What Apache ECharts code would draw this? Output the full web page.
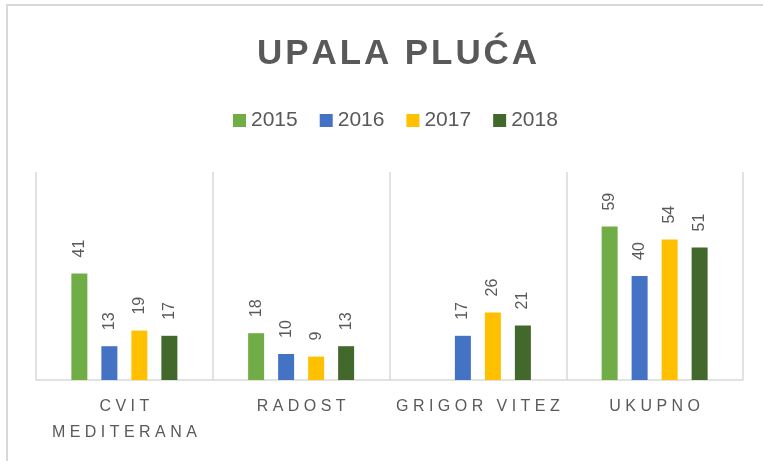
<!DOCTYPE html>
<html lang="hr">
<head>
    <meta charset="UTF-8">
    <title>Upala pluća</title>
    <style>
        body { margin: 0; background: #fff; }
    </style>
</head>
<body>
    <div id="app" style="width: 763px;height:461px;"></div>
    <script src="https://cdn.jsdelivr.net/npm/echarts@6/dist/echarts.min.js"></script>
    <script>
        const categories = ['CVIT MEDITERANA', 'RADOST', 'GRIGOR VITEZ', 'UKUPNO'];
        const years = ['2015', '2016', '2017', '2018'];
        const v2015 = [41, 18, null, 59];
        const v2016 = [13, 10, 17, 40];
        const v2017 = [19, 9, 26, 54];
        const v2018 = [17, 13, 21, 51];
        const colors = ['#70AD47', '#4472C4', '#FFC000', '#43682B'];

        // spread letters out a bit, like the office chart does
        function spaced(word, gap) {
            return word.split('').join(gap);
        }
        function catLabel(name) {
            const words = name.split(' ').map(w => spaced(w, ' '));
            return name.length > 12 ? words.join('\n') : words.join('   ');
        }

        const myChart = echarts.init(document.getElementById('app'));
        const gray = '#595959';

        const series = [v2015, v2016, v2017, v2018].map((vals, i) => ({
            name: years[i],
            type: 'bar',
            data: vals,
            barWidth: 16,
            barGap: '87.5%',
            itemStyle: { color: colors[i] },
            label: {
                show: true,
                position: 'top',
                rotate: 90,
                align: 'left',
                verticalAlign: 'middle',
                distance: 16,
                color: gray,
                fontSize: 16,
                fontFamily: 'Liberation Sans'
            }
        }));

        myChart.setOption({
            animation: false,
            color: colors,
            title: {
                text: spaced('UPALA PLUĆA', '\u200A'),
                left: 252,
                top: 32,
                textStyle: {
                    fontFamily: 'Liberation Sans',
                    fontWeight: 'bold',
                    fontSize: 35,
                    color: gray
                }
            },
            legend: {
                top: 105,
                left: 228,
                itemWidth: 13,
                itemHeight: 13,
                itemGap: 22,
                icon: 'rect',
                textStyle: { fontSize: 21, color: gray, fontFamily: 'Liberation Sans' }
            },
            grid: { left: 36, right: 20, top: 172, bottom: 81 },
            xAxis: {
                type: 'category',
                data: categories,
                axisLine: { lineStyle: { color: '#d9d9d9', width: 1.5 } },
                axisTick: { show: false },
                splitLine: { show: true, interval: 0, lineStyle: { color: '#d9d9d9', width: 1.5 } },
                axisLabel: {
                    interval: 0,
                    margin: 14,
                    fontSize: 16,
                    lineHeight: 26,
                    color: gray,
                    fontFamily: 'Liberation Sans',
                    formatter: catLabel
                }
            },
            yAxis: {
                type: 'value',
                min: 0,
                max: 80,
                show: false
            },
            graphic: [{
                type: 'rect',
                shape: { x: 7, y: 5, width: 800, height: 500 },
                style: { fill: 'none', stroke: '#d9d9d9', lineWidth: 2 },
                silent: true,
                z: -1
            }],
            series: series
        });
    </script>
</body>
</html>
